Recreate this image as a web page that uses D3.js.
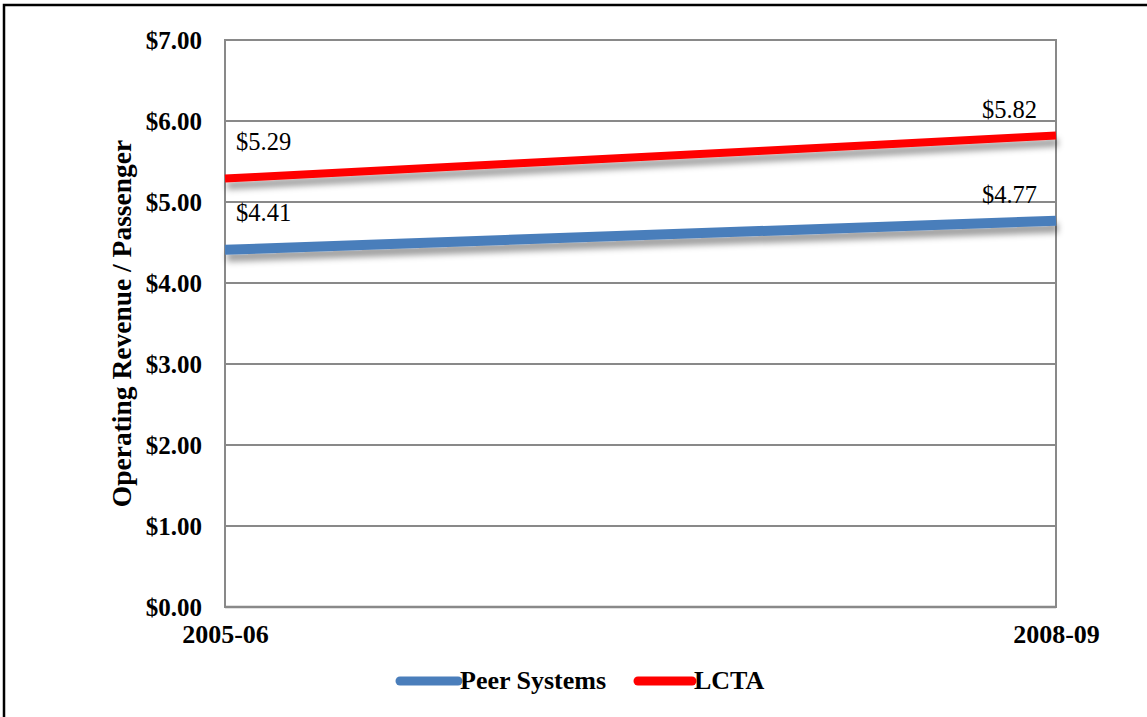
<!DOCTYPE html>
<html>
<head>
<meta charset="utf-8">
<script src="https://cdn.jsdelivr.net/npm/d3@7"></script>
<style>
  html, body { margin: 0; padding: 0; background: #fff; }
  svg { display: block; }
  text { font-family: "Liberation Serif", "DejaVu Serif", serif; fill: #000; }
</style>
</head>
<body>
<svg id="chart" width="1147" height="717"></svg>
<script>
// Fiscal years on the x axis
const years = ["2005-06", "2008-09"];
// Operating revenue per passenger, dollars
const peerSystems = [4.41, 4.77];
const lcta = [5.29, 5.82];
// Y axis ticks
const yTicks = [0, 1, 2, 3, 4, 5, 6, 7];

const series = [
  { name: "Peer Systems", values: peerSystems, color: "#4a7ebb", width: 10 },
  { name: "LCTA", values: lcta, color: "#ff0000", width: 8 }
];

const svg = d3.select("#chart");
const W = 1147, H = 717;
const m = { left: 225, right: 1056, top: 40, bottom: 607 };

// outer frame
svg.append("rect")
  .attr("x", 4).attr("y", 5)
  .attr("width", W + 10).attr("height", H + 10)
  .attr("fill", "none").attr("stroke", "#000").attr("stroke-width", 2.5);

const x = d3.scalePoint().domain(years).range([m.left, m.right]);
const y = d3.scaleLinear().domain([0, 7]).range([m.bottom, m.top]);

// soft drop shadow under the lines
const defs = svg.append("defs");
const f = defs.append("filter").attr("id", "shadow")
  .attr("x", "-5%").attr("y", "-200%").attr("width", "110%").attr("height", "500%");
f.append("feDropShadow")
  .attr("dx", 2).attr("dy", 7).attr("stdDeviation", 3.2)
  .attr("flood-color", "#000").attr("flood-opacity", 0.38);

// horizontal gridlines
svg.append("g").selectAll("line").data(yTicks.filter(d => d > 0)).join("line")
  .attr("x1", m.left).attr("x2", m.right)
  .attr("y1", d => y(d)).attr("y2", d => y(d))
  .attr("stroke", "#898989").attr("stroke-width", 2);

// plot frame: left, right and bottom edges
svg.append("line").attr("x1", m.left).attr("x2", m.left).attr("y1", m.top - 1).attr("y2", m.bottom + 1)
  .attr("stroke", "#898989").attr("stroke-width", 2);
svg.append("line").attr("x1", m.right).attr("x2", m.right).attr("y1", m.top - 1).attr("y2", m.bottom + 1)
  .attr("stroke", "#898989").attr("stroke-width", 2);
svg.append("line").attr("x1", m.left).attr("x2", m.right).attr("y1", m.bottom).attr("y2", m.bottom)
  .attr("stroke", "#898989").attr("stroke-width", 2.5);

// y axis tick labels
const yAxis = d3.axisLeft(y).tickValues(yTicks).tickSize(0).tickPadding(23)
  .tickFormat(d => "$" + d3.format(".2f")(d));
const gy = svg.append("g").attr("transform", `translate(${m.left},0)`).call(yAxis);
gy.select(".domain").remove();
gy.selectAll("text")
  .style("font-family", '"Liberation Serif", serif')
  .style("font-size", "25px").style("font-weight", "bold").attr("fill", "#000");

// x axis labels
const xAxis = d3.axisBottom(x).tickSize(0).tickPadding(18);
const gx = svg.append("g").attr("transform", `translate(0,${m.bottom})`).call(xAxis);
gx.select(".domain").remove();
gx.selectAll("text")
  .style("font-family", '"Liberation Serif", serif')
  .style("font-size", "26px").style("font-weight", "bold").attr("fill", "#000");

// y axis title
svg.append("text")
  .attr("transform", `translate(131,${(m.top + m.bottom) / 2}) rotate(-90)`)
  .attr("text-anchor", "middle")
  .style("font-size", "27.5px").style("font-weight", "bold")
  .text("Operating Revenue / Passenger");

// data lines
const line = d3.line().x((d, i) => x(years[i])).y(d => y(d));
svg.append("g").selectAll("path").data(series).join("path")
  .attr("d", d => line(d.values))
  .attr("fill", "none")
  .attr("stroke", d => d.color)
  .attr("stroke-width", d => d.width)
  .attr("filter", "url(#shadow)");

// value labels
series.forEach(s => {
  svg.append("text")
    .attr("x", x(years[0]) + 11)
    .attr("y", y(s.values[0]) - 29)
    .style("font-size", "24.5px")
    .text("$" + d3.format(".2f")(s.values[0]));
  svg.append("text")
    .attr("x", x(years[1]) - 19)
    .attr("y", y(s.values[1]) - 18)
    .attr("text-anchor", "end")
    .style("font-size", "24.5px")
    .text("$" + d3.format(".2f")(s.values[1]));
});

// legend
const legend = [
  { s: series[0], x0: 400, x1: 458, tx: 460 },
  { s: series[1], x0: 638, x1: 692, tx: 694 }
];
const lg = svg.append("g");
legend.forEach(l => {
  lg.append("line")
    .attr("x1", l.x0).attr("x2", l.x1).attr("y1", 681).attr("y2", 681)
    .attr("stroke", l.s.color).attr("stroke-width", 9).attr("stroke-linecap", "round");
  lg.append("text")
    .attr("x", l.tx).attr("y", 689)
    .style("font-size", "26px").style("font-weight", "bold")
    .text(l.s.name);
});
</script>
</body>
</html>
